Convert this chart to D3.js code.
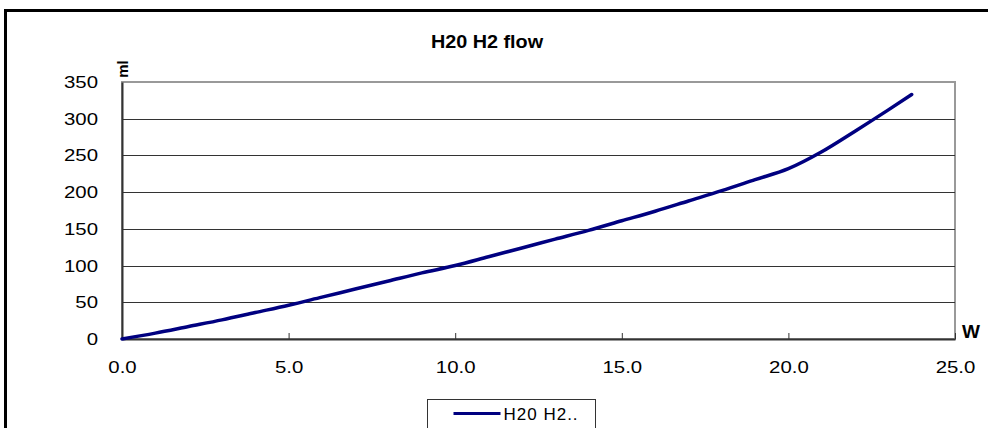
<!DOCTYPE html>
<html>
<head>
<meta charset="utf-8">
<script src="https://cdn.jsdelivr.net/npm/d3@7/dist/d3.min.js"></script>
<style>
body { margin: 0; background: #fff; }
svg text { font-family: "Liberation Sans", Arial, sans-serif; fill: #000; }
</style>
</head>
<body>
<div id="chart"></div>
<script>
// power (W) vs hydrogen flow (ml)
var watts = [0, 1, 2, 3, 4, 5, 6, 7, 8, 9, 10, 11, 12,
    13, 14, 15, 16, 17, 18, 19, 20, 21, 22, 23, 23.7
];
var flow = [0, 8, 17, 26, 36, 46, 57, 68, 79, 90, 100, 112, 124,
    136, 148, 161, 174, 188, 202, 217, 232, 255, 283, 312, 333
];
var xTicks = [0, 5, 10, 15, 20, 25];
var yTicks = [0, 50, 100, 150, 200, 250, 300, 350];
var chartTitle = 'H20 H2 flow';
var seriesName = 'H20 H2..';

var margin = {
    top: 82,
    right: 33,
    bottom: 89,
    left: 122
}

var width = 988 - margin.left - margin.right,
    height = 428 - margin.top - margin.bottom;

var xScale = d3.scaleLinear()
    .domain([0, 25])
    .range([0, width])

var yScale = d3.scaleLinear()
    .domain([0, 350])
    .range([height, 0])

var svg = d3.select('#chart').append('svg')
    .attr('width', 988)
    .attr('height', 428)

// outer frame (runs off the right and bottom edge)
svg.append('rect')
    .attr('x', 5.5)
    .attr('y', 10.5)
    .attr('width', 1100)
    .attr('height', 600)
    .attr('fill', '#fff')
    .attr('stroke', '#000')
    .attr('stroke-width', 3)

svg.append('text')
    .attr('x', 487)
    .attr('y', 48)
    .attr('text-anchor', 'middle')
    .attr('font-size', '18px')
    .attr('font-weight', 'bold')
    .attr('transform', 'translate(487,0) scale(1.1,1) translate(-487,0)')
    .text(chartTitle)

var plot = svg.append('g')
    .attr('transform', 'translate(' + margin.left + ', ' + margin.top + ')')

plot.append('rect')
    .attr('width', width)
    .attr('height', height)
    .attr('fill', 'none')
    .attr('stroke', '#999')
    .attr('stroke-width', 2)

plot.selectAll('line.grid')
    .data(yTicks.filter(function (d) { return d > 0 && d < 350; }))
    .enter().append('line')
    .attr('class', 'grid')
    .attr('x1', 0)
    .attr('x2', width)
    .attr('y1', function (d) { return Math.round(yScale(d)) + 0.5; })
    .attr('y2', function (d) { return Math.round(yScale(d)) + 0.5; })
    .attr('stroke', '#333')
    .attr('stroke-width', 1)

var yAxis = d3.axisLeft(yScale)
    .tickValues(yTicks)
    .tickSize(0)
    .tickPadding(20)

var yGuide = plot.append('g').call(yAxis)
yGuide.select('path').attr('stroke', '#333').attr('stroke-width', 2)
yGuide.selectAll('text')
    .attr('font-size', '17px')
    .attr('font-family', '"Liberation Sans", Arial, sans-serif')
    .attr('transform', 'scale(1.2,1)')

var xAxis = d3.axisBottom(xScale)
    .tickValues(xTicks)
    .tickSizeInner(-6)
    .tickSizeOuter(0)
    .tickPadding(22)
    .tickFormat(d3.format('.1f'))

var xGuide = plot.append('g')
    .attr('transform', 'translate(0, ' + height + ')')
    .call(xAxis)
xGuide.select('path').attr('stroke', '#333').attr('stroke-width', 2)
xGuide.selectAll('line').attr('stroke', '#333')
xGuide.selectAll('text')
    .attr('font-size', '17px')
    .attr('font-family', '"Liberation Sans", Arial, sans-serif')
    .attr('transform', 'scale(1.2,1)')

var line = d3.line()
    .x(function (d, i) { return xScale(watts[i]); })
    .y(function (d) { return yScale(d); })
    .curve(d3.curveMonotoneX)

plot.append('path')
    .datum(flow)
    .attr('d', line)
    .attr('fill', 'none')
    .attr('stroke', '#000080')
    .attr('stroke-width', 3.5)
    .attr('stroke-linecap', 'round')

// axis unit labels
svg.append('text')
    .attr('transform', 'translate(128, 69) rotate(-90)')
    .attr('text-anchor', 'middle')
    .attr('font-size', '15px')
    .attr('font-weight', 'bold')
    .text('ml')

svg.append('text')
    .attr('x', 962)
    .attr('y', 338)
    .attr('font-size', '19px')
    .attr('font-weight', 'bold')
    .text('W')

// legend
var legend = svg.append('g')
    .attr('transform', 'translate(427.5, 399.5)')

legend.append('rect')
    .attr('width', 168)
    .attr('height', 60)
    .attr('fill', '#fff')
    .attr('stroke', '#333')
    .attr('stroke-width', 1)

legend.append('line')
    .attr('x1', 26)
    .attr('x2', 73)
    .attr('y1', 14)
    .attr('y2', 14)
    .attr('stroke', '#000080')
    .attr('stroke-width', 3)

legend.append('text')
    .attr('x', 76)
    .attr('y', 20)
    .attr('font-size', '17px')
    .attr('letter-spacing', '1px')
    .text(seriesName)
</script>
</body>
</html>
